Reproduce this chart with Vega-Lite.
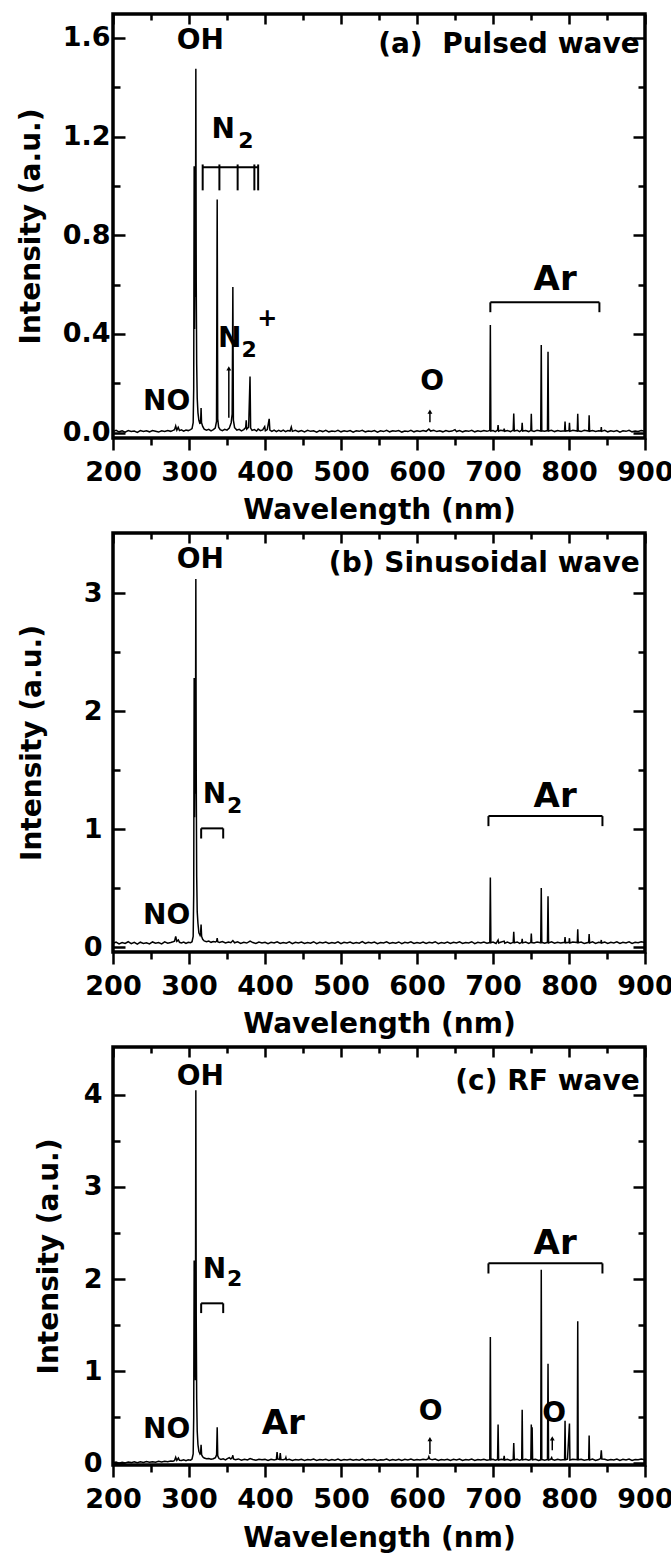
{
"$schema":"https://vega.github.io/schema/vega-lite/v6.json",
"background":"white",
"padding":{"left":15,"top":11,"right":0,"bottom":4},
"spacing":95,
"bounds":"flush",
"config":{
 "view":{"stroke":"black","strokeWidth":3.5},
 "axis":{"labelFont":"DejaVu Sans","labelFontWeight":"bold","labelFontSize":27,"labelColor":"black","labelOverlap":false,"labelFlush":false,"labelBound":false,"titleFont":"DejaVu Sans","titleFontWeight":"bold","titleFontSize":28,"titleColor":"black","tickColor":"black","tickWidth":2.5,"grid":false,"domain":false}
},
"vconcat":[
{
 "width":532,"height":424,
 "resolve":{"axis":{"x":"independent","y":"independent"}},
 "layer":[
  {"data":{"name":"aS"},"mark":{"type":"line","color":"black","strokeWidth":1.5},
   "encoding":{"x":{"field":"w","type":"quantitative","scale":{"domain":[200,900],"nice":false,"zero":false},"axis":{"orient":"bottom","values":[200,300,400,500,600,700,800,900],"title":"Wavelength (nm)","tickSize":12,"labelPadding":9,"titlePadding":11}},
    "y":{"field":"v","type":"quantitative","scale":{"domain":[-0.022,1.697],"nice":false,"zero":false},"axis":{"orient":"left","values":[0,0.4,0.8,1.2,1.6],"format":".1f","title":"Intensity (a.u.)","ticks":false,"labelPadding":3,"titlePadding":17}}}},
  {"data":{"name":"aT"},"transform":[{"filter":"datum.k=='c'"}],"mark":{"type":"text","font":"DejaVu Sans","fontWeight":"bold","fontSize":28,"align":"center","baseline":"alphabetic","color":"black"},
   "encoding":{"x":{"field":"w","type":"quantitative","scale":{"domain":[200,900],"nice":false,"zero":false},"axis":{"orient":"bottom","values":[250,350,450,550,650,750,850],"labels":false,"title":null,"tickSize":7}},
    "y":{"field":"v","type":"quantitative","scale":{"domain":[-0.022,1.697],"nice":false,"zero":false},"axis":{"orient":"left","values":[0,0.4,0.8,1.2,1.6],"labels":false,"title":null,"tickSize":-12}},"text":{"field":"t"}}},
  {"data":{"name":"aT"},"transform":[{"filter":"datum.k=='b'"}],"mark":{"type":"text","font":"DejaVu Sans","fontWeight":"bold","fontSize":34,"align":"center","baseline":"alphabetic","color":"black"},
   "encoding":{"x":{"field":"w","type":"quantitative","scale":{"domain":[200,900],"nice":false,"zero":false},"axis":{"orient":"top","values":[200,300,400,500,600,700,800,900],"labels":false,"title":null,"tickSize":-10}},
    "y":{"field":"v","type":"quantitative","scale":{"domain":[-0.022,1.697],"nice":false,"zero":false},"axis":{"orient":"left","values":[0.2,0.6,1.0,1.4],"labels":false,"title":null,"tickSize":-7}},"text":{"field":"t"}}},
  {"data":{"name":"aT"},"transform":[{"filter":"datum.k=='s'"}],"mark":{"type":"text","font":"DejaVu Sans","fontWeight":"bold","fontSize":22,"align":"center","baseline":"alphabetic","color":"black"},
   "encoding":{"x":{"field":"w","type":"quantitative","scale":{"domain":[200,900],"nice":false,"zero":false},"axis":{"orient":"top","values":[250,350,450,550,650,750,850],"labels":false,"title":null,"tickSize":-6}},
    "y":{"field":"v","type":"quantitative","scale":{"domain":[-0.022,1.697],"nice":false,"zero":false},"axis":{"orient":"right","values":[0,0.4,0.8,1.2,1.6],"labels":false,"title":null,"tickSize":-12}},"text":{"field":"t"}}},
  {"data":{"name":"aT"},"transform":[{"filter":"datum.k=='r'"}],"mark":{"type":"text","font":"DejaVu Sans","fontWeight":"bold","fontSize":28,"align":"right","baseline":"alphabetic","color":"black"},
   "encoding":{"x":{"field":"w","type":"quantitative","scale":{"domain":[200,900],"nice":false,"zero":false},"axis":null},
    "y":{"field":"v","type":"quantitative","scale":{"domain":[-0.022,1.697],"nice":false,"zero":false},"axis":{"orient":"right","values":[0.2,0.6,1.0,1.4],"labels":false,"title":null,"tickSize":-7}},"text":{"field":"t"}}},
  {"data":{"name":"aT"},"transform":[{"filter":"datum.k=='p'"}],"mark":{"type":"text","font":"DejaVu Sans","fontWeight":"bold","fontSize":24,"align":"center","baseline":"middle","color":"black"},
   "encoding":{"x":{"field":"w","type":"quantitative","scale":{"domain":[200,900],"nice":false,"zero":false},"axis":null},
    "y":{"field":"v","type":"quantitative","scale":{"domain":[-0.022,1.697],"nice":false,"zero":false},"axis":null},"text":{"field":"t"}}},
  {"data":{"name":"aR"},"mark":{"type":"rule","color":"black","strokeWidth":2},
   "encoding":{"x":{"field":"w","type":"quantitative","scale":{"domain":[200,900],"nice":false,"zero":false},"axis":null},"x2":{"field":"w2"},
    "y":{"field":"v","type":"quantitative","scale":{"domain":[-0.022,1.697],"nice":false,"zero":false},"axis":null},"y2":{"field":"v2"}}},
  {"data":{"name":"aA"},"mark":{"type":"rule","color":"black","strokeWidth":1.5},
   "encoding":{"x":{"field":"w","type":"quantitative","scale":{"domain":[200,900],"nice":false,"zero":false},"axis":null},
    "y":{"field":"v","type":"quantitative","scale":{"domain":[-0.022,1.697],"nice":false,"zero":false},"axis":null},"y2":{"field":"v2"}}},
  {"data":{"name":"aA"},"mark":{"type":"point","shape":"triangle-up","filled":true,"color":"black","size":24,"opacity":1},
   "encoding":{"x":{"field":"w","type":"quantitative","scale":{"domain":[200,900],"nice":false,"zero":false},"axis":null},
    "y":{"field":"v2","type":"quantitative","scale":{"domain":[-0.022,1.697],"nice":false,"zero":false},"axis":null}}}
 ]
},
{
 "width":532,"height":419,
 "resolve":{"axis":{"x":"independent","y":"independent"}},
 "layer":[
  {"data":{"name":"bS"},"mark":{"type":"line","color":"black","strokeWidth":1.5},
   "encoding":{"x":{"field":"w","type":"quantitative","scale":{"domain":[200,900],"nice":false,"zero":false},"axis":{"orient":"bottom","values":[200,300,400,500,600,700,800,900],"title":"Wavelength (nm)","tickSize":12,"labelPadding":9,"titlePadding":11}},
    "y":{"field":"v","type":"quantitative","scale":{"domain":[-0.042,3.51],"nice":false,"zero":false},"axis":{"orient":"left","values":[0,1,2,3],"format":"d","title":"Intensity (a.u.)","ticks":false,"labelPadding":11,"titlePadding":37}}}},
  {"data":{"name":"bT"},"transform":[{"filter":"datum.k=='c'"}],"mark":{"type":"text","font":"DejaVu Sans","fontWeight":"bold","fontSize":28,"align":"center","baseline":"alphabetic","color":"black"},
   "encoding":{"x":{"field":"w","type":"quantitative","scale":{"domain":[200,900],"nice":false,"zero":false},"axis":{"orient":"bottom","values":[250,350,450,550,650,750,850],"labels":false,"title":null,"tickSize":7}},
    "y":{"field":"v","type":"quantitative","scale":{"domain":[-0.042,3.51],"nice":false,"zero":false},"axis":{"orient":"left","values":[0,1,2,3],"labels":false,"title":null,"tickSize":-12}},"text":{"field":"t"}}},
  {"data":{"name":"bT"},"transform":[{"filter":"datum.k=='b'"}],"mark":{"type":"text","font":"DejaVu Sans","fontWeight":"bold","fontSize":34,"align":"center","baseline":"alphabetic","color":"black"},
   "encoding":{"x":{"field":"w","type":"quantitative","scale":{"domain":[200,900],"nice":false,"zero":false},"axis":{"orient":"top","values":[200,300,400,500,600,700,800,900],"labels":false,"title":null,"tickSize":-10}},
    "y":{"field":"v","type":"quantitative","scale":{"domain":[-0.042,3.51],"nice":false,"zero":false},"axis":{"orient":"left","values":[0.5,1.5,2.5],"labels":false,"title":null,"tickSize":-7}},"text":{"field":"t"}}},
  {"data":{"name":"bT"},"transform":[{"filter":"datum.k=='s'"}],"mark":{"type":"text","font":"DejaVu Sans","fontWeight":"bold","fontSize":22,"align":"center","baseline":"alphabetic","color":"black"},
   "encoding":{"x":{"field":"w","type":"quantitative","scale":{"domain":[200,900],"nice":false,"zero":false},"axis":{"orient":"top","values":[250,350,450,550,650,750,850],"labels":false,"title":null,"tickSize":-6}},
    "y":{"field":"v","type":"quantitative","scale":{"domain":[-0.042,3.51],"nice":false,"zero":false},"axis":{"orient":"right","values":[0,1,2,3],"labels":false,"title":null,"tickSize":-12}},"text":{"field":"t"}}},
  {"data":{"name":"bT"},"transform":[{"filter":"datum.k=='r'"}],"mark":{"type":"text","font":"DejaVu Sans","fontWeight":"bold","fontSize":28,"align":"right","baseline":"alphabetic","color":"black"},
   "encoding":{"x":{"field":"w","type":"quantitative","scale":{"domain":[200,900],"nice":false,"zero":false},"axis":null},
    "y":{"field":"v","type":"quantitative","scale":{"domain":[-0.042,3.51],"nice":false,"zero":false},"axis":{"orient":"right","values":[0.5,1.5,2.5],"labels":false,"title":null,"tickSize":-7}},"text":{"field":"t"}}},
  {"data":{"name":"bR"},"mark":{"type":"rule","color":"black","strokeWidth":2},
   "encoding":{"x":{"field":"w","type":"quantitative","scale":{"domain":[200,900],"nice":false,"zero":false},"axis":null},"x2":{"field":"w2"},
    "y":{"field":"v","type":"quantitative","scale":{"domain":[-0.042,3.51],"nice":false,"zero":false},"axis":null},"y2":{"field":"v2"}}}
 ]
},
{
 "width":532,"height":418,
 "resolve":{"axis":{"x":"independent","y":"independent"}},
 "layer":[
  {"data":{"name":"cS"},"mark":{"type":"line","color":"black","strokeWidth":1.5},
   "encoding":{"x":{"field":"w","type":"quantitative","scale":{"domain":[200,900],"nice":false,"zero":false},"axis":{"orient":"bottom","values":[200,300,400,500,600,700,800,900],"title":"Wavelength (nm)","tickSize":12,"labelPadding":9,"titlePadding":12}},
    "y":{"field":"v","type":"quantitative","scale":{"domain":[-0.02,4.52],"nice":false,"zero":false},"axis":{"orient":"left","values":[0,1,2,3,4],"format":"d","title":"Intensity (a.u.)","ticks":false,"labelPadding":11,"titlePadding":20}}}},
  {"data":{"name":"cT"},"transform":[{"filter":"datum.k=='c'"}],"mark":{"type":"text","font":"DejaVu Sans","fontWeight":"bold","fontSize":28,"align":"center","baseline":"alphabetic","color":"black"},
   "encoding":{"x":{"field":"w","type":"quantitative","scale":{"domain":[200,900],"nice":false,"zero":false},"axis":{"orient":"bottom","values":[250,350,450,550,650,750,850],"labels":false,"title":null,"tickSize":7}},
    "y":{"field":"v","type":"quantitative","scale":{"domain":[-0.02,4.52],"nice":false,"zero":false},"axis":{"orient":"left","values":[0,1,2,3,4],"labels":false,"title":null,"tickSize":-12}},"text":{"field":"t"}}},
  {"data":{"name":"cT"},"transform":[{"filter":"datum.k=='b'"}],"mark":{"type":"text","font":"DejaVu Sans","fontWeight":"bold","fontSize":34,"align":"center","baseline":"alphabetic","color":"black"},
   "encoding":{"x":{"field":"w","type":"quantitative","scale":{"domain":[200,900],"nice":false,"zero":false},"axis":{"orient":"top","values":[200,300,400,500,600,700,800,900],"labels":false,"title":null,"tickSize":-10}},
    "y":{"field":"v","type":"quantitative","scale":{"domain":[-0.02,4.52],"nice":false,"zero":false},"axis":{"orient":"left","values":[0.5,1.5,2.5,3.5],"labels":false,"title":null,"tickSize":-7}},"text":{"field":"t"}}},
  {"data":{"name":"cT"},"transform":[{"filter":"datum.k=='s'"}],"mark":{"type":"text","font":"DejaVu Sans","fontWeight":"bold","fontSize":22,"align":"center","baseline":"alphabetic","color":"black"},
   "encoding":{"x":{"field":"w","type":"quantitative","scale":{"domain":[200,900],"nice":false,"zero":false},"axis":{"orient":"top","values":[250,350,450,550,650,750,850],"labels":false,"title":null,"tickSize":-6}},
    "y":{"field":"v","type":"quantitative","scale":{"domain":[-0.02,4.52],"nice":false,"zero":false},"axis":{"orient":"right","values":[0,1,2,3,4],"labels":false,"title":null,"tickSize":-12}},"text":{"field":"t"}}},
  {"data":{"name":"cT"},"transform":[{"filter":"datum.k=='r'"}],"mark":{"type":"text","font":"DejaVu Sans","fontWeight":"bold","fontSize":28,"align":"right","baseline":"alphabetic","color":"black"},
   "encoding":{"x":{"field":"w","type":"quantitative","scale":{"domain":[200,900],"nice":false,"zero":false},"axis":null},
    "y":{"field":"v","type":"quantitative","scale":{"domain":[-0.02,4.52],"nice":false,"zero":false},"axis":{"orient":"right","values":[0.5,1.5,2.5,3.5],"labels":false,"title":null,"tickSize":-7}},"text":{"field":"t"}}},
  {"data":{"name":"cR"},"mark":{"type":"rule","color":"black","strokeWidth":2},
   "encoding":{"x":{"field":"w","type":"quantitative","scale":{"domain":[200,900],"nice":false,"zero":false},"axis":null},"x2":{"field":"w2"},
    "y":{"field":"v","type":"quantitative","scale":{"domain":[-0.02,4.52],"nice":false,"zero":false},"axis":null},"y2":{"field":"v2"}}},
  {"data":{"name":"cA"},"mark":{"type":"rule","color":"black","strokeWidth":1.5},
   "encoding":{"x":{"field":"w","type":"quantitative","scale":{"domain":[200,900],"nice":false,"zero":false},"axis":null},
    "y":{"field":"v","type":"quantitative","scale":{"domain":[-0.02,4.52],"nice":false,"zero":false},"axis":null},"y2":{"field":"v2"}}},
  {"data":{"name":"cA"},"mark":{"type":"point","shape":"triangle-up","filled":true,"color":"black","size":24,"opacity":1},
   "encoding":{"x":{"field":"w","type":"quantitative","scale":{"domain":[200,900],"nice":false,"zero":false},"axis":null},
    "y":{"field":"v2","type":"quantitative","scale":{"domain":[-0.02,4.52],"nice":false,"zero":false},"axis":null}}}
 ]
}
],
"datasets":{
"aT":[
{"k":"c","t":"OH","w":315,"v":1.556},
{"k":"c","t":"NO","w":270.6,"v":0.09},
{"k":"c","t":"O","w":620,"v":0.174},
{"k":"c","t":"N","w":345,"v":1.196},
{"k":"c","t":"N","w":353.5,"v":0.347},
{"k":"s","t":"2","w":375,"v":1.152},
{"k":"s","t":"2","w":379,"v":0.308},
{"k":"p","t":"+","w":403,"v":0.46},
{"k":"b","t":"Ar","w":781.8,"v":0.578},
{"k":"r","t":"(a)\u00a0 Pulsed wave","w":893,"v":1.54}
],
"aR":[
{"w":318,"w2":391,"v":1.076,"v2":1.076},
{"w":318,"w2":318,"v":0.982,"v2":1.087},
{"w":340,"w2":340,"v":0.982,"v2":1.087},
{"w":364,"w2":364,"v":0.982,"v2":1.087},
{"w":386,"w2":386,"v":0.982,"v2":1.087},
{"w":391,"w2":391,"v":0.982,"v2":1.087},
{"w":696.5,"w2":840,"v":0.528,"v2":0.528},
{"w":696.5,"w2":696.5,"v":0.488,"v2":0.528},
{"w":840,"w2":840,"v":0.488,"v2":0.528}
],
"aA":[
{"w":352.4,"v":0.06,"v2":0.26},
{"w":617,"v":0.042,"v2":0.085}
],
"bT":[
{"k":"c","t":"OH","w":315,"v":3.21},
{"k":"c","t":"NO","w":270.6,"v":0.195},
{"k":"c","t":"N","w":333.5,"v":1.22},
{"k":"s","t":"2","w":360,"v":1.135},
{"k":"b","t":"Ar","w":781.8,"v":1.19},
{"k":"r","t":"(b) Sinusoidal wave","w":893,"v":3.18}
],
"bR":[
{"w":316,"w2":345,"v":1.006,"v2":1.006},
{"w":316,"w2":316,"v":0.92,"v2":1.006},
{"w":345,"w2":345,"v":0.92,"v2":1.006},
{"w":694,"w2":844,"v":1.11,"v2":1.11},
{"w":694,"w2":694,"v":1.025,"v2":1.11},
{"w":844,"w2":844,"v":1.025,"v2":1.11}
],
"cT":[
{"k":"c","t":"OH","w":315,"v":4.11},
{"k":"c","t":"NO","w":270.6,"v":0.27},
{"k":"c","t":"N","w":333.5,"v":2.01},
{"k":"s","t":"2","w":360,"v":1.92},
{"k":"c","t":"O","w":618,"v":0.47},
{"k":"c","t":"O","w":780.6,"v":0.45},
{"k":"b","t":"Ar","w":781.8,"v":2.27},
{"k":"b","t":"Ar","w":424,"v":0.32},
{"k":"r","t":"(c) RF wave","w":893,"v":4.05}
],
"cR":[
{"w":316,"w2":345,"v":1.736,"v2":1.736},
{"w":316,"w2":316,"v":1.63,"v2":1.736},
{"w":345,"w2":345,"v":1.63,"v2":1.736},
{"w":694,"w2":844,"v":2.17,"v2":2.17},
{"w":694,"w2":694,"v":2.06,"v2":2.17},
{"w":844,"w2":844,"v":2.06,"v2":2.17}
],
"cA":[
{"w":617,"v":0.1,"v2":0.26},
{"w":778,"v":0.14,"v2":0.27}
],
"aS":[
{"w":200,"v":0.004},{"w":204,"v":0.009},{"w":208,"v":0.003},{"w":212,"v":0.007},{"w":216,"v":0.002},{"w":220,"v":0.008},{"w":224,"v":0.004},{"w":228,"v":0.006},{"w":232,"v":0.001},{"w":236,"v":0.008},{"w":240,"v":0.004},{"w":244,"v":0.007},{"w":248,"v":0.003},{"w":252,"v":0.008},{"w":256,"v":0.005},{"w":260,"v":0.002},{"w":264,"v":0.007},{"w":268,"v":0.004},{"w":272,"v":0.008},{"w":276,"v":0.005},{"w":279,"v":0.009},{"w":281,"v":0.012},{"w":282.5,"v":0.027},{"w":284,"v":0.01},{"w":285.8,"v":0.021},{"w":287.5,"v":0.008},{"w":290,"v":0.011},{"w":293,"v":0.006},{"w":296,"v":0.01},{"w":299,"v":0.008},{"w":302,"v":0.012},{"w":304,"v":0.016},{"w":305.5,"v":0.04},{"w":306.2,"v":0.18},{"w":306.8,"v":1.08},{"w":307.3,"v":0.42},{"w":307.9,"v":0.82},{"w":308.4,"v":0.55},{"w":309.0,"v":1.475},{"w":309.5,"v":0.62},{"w":310.1,"v":0.28},{"w":310.8,"v":0.14},{"w":311.8,"v":0.08},{"w":313,"v":0.05},{"w":314.5,"v":0.035},{"w":315.4,"v":0.05},{"w":315.9,"v":0.1},{"w":316.5,"v":0.04},{"w":318,"v":0.025},{"w":320,"v":0.014},{"w":323,"v":0.01},{"w":326,"v":0.013},{"w":329,"v":0.007},{"w":332,"v":0.012},{"w":334.5,"v":0.018},{"w":336.2,"v":0.045},{"w":337.1,"v":0.945},{"w":337.8,"v":0.055},{"w":339,"v":0.022},{"w":341,"v":0.012},{"w":344,"v":0.008},{"w":347,"v":0.013},{"w":350,"v":0.01},{"w":353,"v":0.018},{"w":355.5,"v":0.04},{"w":356.8,"v":0.075},{"w":357.7,"v":0.59},{"w":358.4,"v":0.05},{"w":360,"v":0.02},{"w":363,"v":0.01},{"w":366,"v":0.013},{"w":369,"v":0.007},{"w":372,"v":0.012},{"w":374.6,"v":0.02},{"w":375.3,"v":0.05},{"w":376,"v":0.014},{"w":378.5,"v":0.022},{"w":380.3,"v":0.227},{"w":381.1,"v":0.018},{"w":383,"v":0.009},{"w":386,"v":0.012},{"w":389,"v":0.006},{"w":391,"v":0.014},{"w":394,"v":0.008},{"w":397,"v":0.011},{"w":399.6,"v":0.024},{"w":400.5,"v":0.007},{"w":403,"v":0.012},{"w":405.5,"v":0.056},{"w":406.4,"v":0.01},{"w":409,"v":0.005},{"w":412,"v":0.01},{"w":415,"v":0.004},{"w":418,"v":0.009},{"w":421,"v":0.005},{"w":424,"v":0.01},{"w":427,"v":0.004},{"w":430,"v":0.008},{"w":433,"v":0.006},{"w":434.6,"v":0.022},{"w":436,"v":0.005},{"w":440,"v":0.009},{"w":444,"v":0.004},{"w":448,"v":0.008},{"w":452,"v":0.003},{"w":456,"v":0.009},{"w":460,"v":0.005},{"w":464,"v":0.007},{"w":468,"v":0.002},{"w":472,"v":0.008},{"w":476,"v":0.004},{"w":480,"v":0.009},{"w":484,"v":0.003},{"w":488,"v":0.006},{"w":492,"v":0.004},{"w":496,"v":0.009},{"w":500,"v":0.003},{"w":504,"v":0.007},{"w":508,"v":0.004},{"w":512,"v":0.008},{"w":516,"v":0.002},{"w":520,"v":0.007},{"w":524,"v":0.005},{"w":528,"v":0.009},{"w":532,"v":0.003},{"w":536,"v":0.006},{"w":540,"v":0.004},{"w":544,"v":0.008},{"w":548,"v":0.002},{"w":552,"v":0.007},{"w":556,"v":0.004},{"w":560,"v":0.009},{"w":564,"v":0.003},{"w":568,"v":0.007},{"w":572,"v":0.005},{"w":576,"v":0.008},{"w":580,"v":0.002},{"w":584,"v":0.006},{"w":588,"v":0.004},{"w":592,"v":0.009},{"w":596,"v":0.003},{"w":600,"v":0.007},{"w":604,"v":0.004},{"w":608,"v":0.008},{"w":612,"v":0.005},{"w":615.6,"v":0.014},{"w":618,"v":0.006},{"w":622,"v":0.009},{"w":626,"v":0.004},{"w":630,"v":0.007},{"w":634,"v":0.003},{"w":638,"v":0.008},{"w":642,"v":0.004},{"w":646,"v":0.006},{"w":650,"v":0.012},{"w":652,"v":0.004},{"w":656,"v":0.008},{"w":660,"v":0.003},{"w":664,"v":0.007},{"w":668,"v":0.005},{"w":672,"v":0.009},{"w":676,"v":0.003},{"w":680,"v":0.007},{"w":684,"v":0.004},{"w":688,"v":0.008},{"w":692,"v":0.005},{"w":695.8,"v":0.009},{"w":696.5,"v":0.436},{"w":697.2,"v":0.006},{"w":700,"v":0.008},{"w":703,"v":0.004},{"w":706,"v":0.01},{"w":706.7,"v":0.03},{"w":707.4,"v":0.006},{"w":710,"v":0.009},{"w":714,"v":0.007},{"w":714.7,"v":0.016},{"w":715.5,"v":0.005},{"w":719,"v":0.008},{"w":723,"v":0.004},{"w":726.6,"v":0.01},{"w":727.3,"v":0.077},{"w":728,"v":0.006},{"w":732,"v":0.009},{"w":735,"v":0.004},{"w":737.8,"v":0.01},{"w":738.4,"v":0.04},{"w":739,"v":0.006},{"w":743,"v":0.008},{"w":747,"v":0.004},{"w":749.8,"v":0.009},{"w":750.4,"v":0.076},{"w":751,"v":0.008},{"w":754,"v":0.005},{"w":758,"v":0.009},{"w":762.8,"v":0.006},{"w":763.5,"v":0.355},{"w":764.2,"v":0.007},{"w":768,"v":0.005},{"w":771.7,"v":0.008},{"w":772.4,"v":0.328},{"w":773.1,"v":0.006},{"w":777,"v":0.009},{"w":781,"v":0.004},{"w":785,"v":0.008},{"w":789,"v":0.005},{"w":794.2,"v":0.007},{"w":794.8,"v":0.045},{"w":795.4,"v":0.006},{"w":800,"v":0.008},{"w":800.6,"v":0.04},{"w":801.2,"v":0.005},{"w":805,"v":0.009},{"w":810.9,"v":0.006},{"w":811.5,"v":0.076},{"w":812.1,"v":0.007},{"w":816,"v":0.004},{"w":820,"v":0.009},{"w":825.9,"v":0.006},{"w":826.5,"v":0.07},{"w":827.1,"v":0.005},{"w":831,"v":0.008},{"w":835,"v":0.004},{"w":839,"v":0.007},{"w":842,"v":0.006},{"w":842.5,"v":0.022},{"w":843,"v":0.005},{"w":847,"v":0.009},{"w":851,"v":0.003},{"w":855,"v":0.007},{"w":859,"v":0.004},{"w":863,"v":0.008},{"w":867,"v":0.002},{"w":871,"v":0.007},{"w":875,"v":0.005},{"w":879,"v":0.009},{"w":883,"v":0.003},{"w":887,"v":0.006},{"w":891,"v":0.004},{"w":895,"v":0.008},{"w":900,"v":0.005}
],
"bS":[
{"w":200,"v":0.03},{"w":204,"v":0.042},{"w":208,"v":0.026},{"w":212,"v":0.038},{"w":216,"v":0.03},{"w":220,"v":0.045},{"w":224,"v":0.028},{"w":228,"v":0.04},{"w":232,"v":0.024},{"w":236,"v":0.041},{"w":240,"v":0.031},{"w":244,"v":0.036},{"w":248,"v":0.026},{"w":252,"v":0.043},{"w":256,"v":0.032},{"w":260,"v":0.038},{"w":264,"v":0.027},{"w":268,"v":0.044},{"w":272,"v":0.033},{"w":276,"v":0.039},{"w":279,"v":0.045},{"w":281,"v":0.05},{"w":282.5,"v":0.09},{"w":284,"v":0.048},{"w":286,"v":0.06},{"w":287.5,"v":0.04},{"w":290,"v":0.035},{"w":293,"v":0.042},{"w":296,"v":0.03},{"w":299,"v":0.04},{"w":302,"v":0.036},{"w":304,"v":0.045},{"w":305.5,"v":0.09},{"w":306.2,"v":0.45},{"w":306.8,"v":2.28},{"w":307.3,"v":1.1},{"w":307.9,"v":1.78},{"w":308.4,"v":1.3},{"w":309.0,"v":3.12},{"w":309.5,"v":1.5},{"w":310.1,"v":0.6},{"w":310.8,"v":0.3},{"w":311.8,"v":0.2},{"w":313,"v":0.12},{"w":314.5,"v":0.1},{"w":315.3,"v":0.12},{"w":315.9,"v":0.19},{"w":316.6,"v":0.09},{"w":318,"v":0.065},{"w":320,"v":0.052},{"w":323,"v":0.045},{"w":326,"v":0.05},{"w":329,"v":0.04},{"w":332,"v":0.047},{"w":335,"v":0.043},{"w":336.4,"v":0.05},{"w":337.1,"v":0.075},{"w":337.8,"v":0.045},{"w":340,"v":0.038},{"w":344,"v":0.046},{"w":348,"v":0.034},{"w":352,"v":0.042},{"w":355,"v":0.037},{"w":357.7,"v":0.055},{"w":360,"v":0.036},{"w":364,"v":0.044},{"w":368,"v":0.031},{"w":372,"v":0.04},{"w":376,"v":0.034},{"w":380.4,"v":0.05},{"w":384,"v":0.038},{"w":388,"v":0.03},{"w":392,"v":0.043},{"w":396,"v":0.035},{"w":400,"v":0.041},{"w":404,"v":0.029},{"w":408,"v":0.04},{"w":412,"v":0.034},{"w":416,"v":0.045},{"w":420,"v":0.03},{"w":424,"v":0.039},{"w":428,"v":0.033},{"w":432,"v":0.044},{"w":436,"v":0.028},{"w":440,"v":0.04},{"w":444,"v":0.035},{"w":448,"v":0.043},{"w":452,"v":0.03},{"w":456,"v":0.038},{"w":460,"v":0.032},{"w":464,"v":0.045},{"w":468,"v":0.029},{"w":472,"v":0.04},{"w":476,"v":0.034},{"w":480,"v":0.042},{"w":484,"v":0.03},{"w":488,"v":0.039},{"w":492,"v":0.033},{"w":496,"v":0.044},{"w":500,"v":0.028},{"w":504,"v":0.04},{"w":508,"v":0.035},{"w":512,"v":0.043},{"w":516,"v":0.031},{"w":520,"v":0.039},{"w":524,"v":0.033},{"w":528,"v":0.046},{"w":532,"v":0.03},{"w":536,"v":0.04},{"w":540,"v":0.034},{"w":544,"v":0.042},{"w":548,"v":0.029},{"w":552,"v":0.038},{"w":556,"v":0.035},{"w":560,"v":0.044},{"w":564,"v":0.03},{"w":568,"v":0.039},{"w":572,"v":0.033},{"w":576,"v":0.043},{"w":580,"v":0.028},{"w":584,"v":0.041},{"w":588,"v":0.035},{"w":592,"v":0.044},{"w":596,"v":0.03},{"w":600,"v":0.039},{"w":604,"v":0.033},{"w":608,"v":0.042},{"w":612,"v":0.03},{"w":616,"v":0.04},{"w":620,"v":0.034},{"w":624,"v":0.045},{"w":628,"v":0.029},{"w":632,"v":0.038},{"w":636,"v":0.033},{"w":640,"v":0.043},{"w":644,"v":0.03},{"w":648,"v":0.041},{"w":652,"v":0.034},{"w":656,"v":0.044},{"w":660,"v":0.03},{"w":664,"v":0.039},{"w":668,"v":0.035},{"w":672,"v":0.045},{"w":676,"v":0.029},{"w":680,"v":0.04},{"w":684,"v":0.034},{"w":688,"v":0.043},{"w":692,"v":0.032},{"w":695.8,"v":0.038},{"w":696.5,"v":0.59},{"w":697.2,"v":0.036},{"w":700,"v":0.042},{"w":704,"v":0.03},{"w":706.7,"v":0.06},{"w":707.5,"v":0.035},{"w":710,"v":0.04},{"w":714.7,"v":0.05},{"w":715.5,"v":0.033},{"w":719,"v":0.042},{"w":723,"v":0.03},{"w":726.6,"v":0.04},{"w":727.3,"v":0.13},{"w":728,"v":0.036},{"w":732,"v":0.043},{"w":735,"v":0.031},{"w":737.8,"v":0.04},{"w":738.4,"v":0.07},{"w":739,"v":0.035},{"w":743,"v":0.042},{"w":747,"v":0.03},{"w":749.8,"v":0.04},{"w":750.4,"v":0.115},{"w":751,"v":0.038},{"w":754,"v":0.034},{"w":758,"v":0.043},{"w":762.8,"v":0.036},{"w":763.5,"v":0.5},{"w":764.2,"v":0.04},{"w":768,"v":0.033},{"w":771.7,"v":0.04},{"w":772.4,"v":0.43},{"w":773.1,"v":0.035},{"w":777,"v":0.045},{"w":781,"v":0.032},{"w":785,"v":0.04},{"w":789,"v":0.034},{"w":794.2,"v":0.04},{"w":794.8,"v":0.085},{"w":795.4,"v":0.036},{"w":800,"v":0.04},{"w":800.6,"v":0.075},{"w":801.2,"v":0.034},{"w":805,"v":0.043},{"w":810.9,"v":0.038},{"w":811.5,"v":0.15},{"w":812.1,"v":0.036},{"w":816,"v":0.042},{"w":820,"v":0.031},{"w":825.9,"v":0.04},{"w":826.5,"v":0.11},{"w":827.1,"v":0.035},{"w":831,"v":0.044},{"w":835,"v":0.03},{"w":839,"v":0.04},{"w":842,"v":0.036},{"w":842.5,"v":0.06},{"w":843,"v":0.034},{"w":847,"v":0.043},{"w":851,"v":0.031},{"w":855,"v":0.04},{"w":859,"v":0.035},{"w":863,"v":0.045},{"w":867,"v":0.03},{"w":871,"v":0.041},{"w":875,"v":0.034},{"w":879,"v":0.044},{"w":883,"v":0.03},{"w":887,"v":0.04},{"w":891,"v":0.036},{"w":895,"v":0.045},{"w":900,"v":0.038}
],
"cS":[
{"w":200,"v":0.005},{"w":204,"v":0.012},{"w":208,"v":0.0},{"w":212,"v":0.01},{"w":216,"v":0.003},{"w":220,"v":0.013},{"w":224,"v":0.006},{"w":228,"v":0.015},{"w":232,"v":0.005},{"w":236,"v":0.014},{"w":240,"v":0.008},{"w":244,"v":0.017},{"w":248,"v":0.009},{"w":252,"v":0.016},{"w":256,"v":0.011},{"w":260,"v":0.02},{"w":264,"v":0.012},{"w":268,"v":0.021},{"w":272,"v":0.015},{"w":276,"v":0.024},{"w":279,"v":0.02},{"w":281,"v":0.03},{"w":282.5,"v":0.065},{"w":284,"v":0.03},{"w":286,"v":0.055},{"w":287.5,"v":0.03},{"w":290,"v":0.028},{"w":293,"v":0.036},{"w":296,"v":0.027},{"w":299,"v":0.036},{"w":302,"v":0.033},{"w":304,"v":0.045},{"w":305.5,"v":0.1},{"w":306.2,"v":0.5},{"w":306.8,"v":2.2},{"w":307.3,"v":1.0},{"w":307.9,"v":1.23},{"w":308.4,"v":0.9},{"w":309.0,"v":4.05},{"w":309.5,"v":1.6},{"w":310.1,"v":0.7},{"w":310.8,"v":0.35},{"w":311.8,"v":0.2},{"w":313,"v":0.13},{"w":314.5,"v":0.1},{"w":315.3,"v":0.11},{"w":315.9,"v":0.2},{"w":316.6,"v":0.09},{"w":318,"v":0.07},{"w":320,"v":0.055},{"w":323,"v":0.048},{"w":326,"v":0.05},{"w":329,"v":0.042},{"w":332,"v":0.048},{"w":334.8,"v":0.06},{"w":336.3,"v":0.09},{"w":337.1,"v":0.39},{"w":337.8,"v":0.08},{"w":339.5,"v":0.05},{"w":342,"v":0.04},{"w":345,"v":0.047},{"w":348,"v":0.036},{"w":350.5,"v":0.05},{"w":353,"v":0.06},{"w":355,"v":0.045},{"w":356.8,"v":0.06},{"w":357.7,"v":0.085},{"w":358.5,"v":0.045},{"w":361,"v":0.038},{"w":365,"v":0.046},{"w":369,"v":0.033},{"w":373,"v":0.042},{"w":377,"v":0.035},{"w":380.4,"v":0.05},{"w":384,"v":0.04},{"w":388,"v":0.032},{"w":392,"v":0.043},{"w":396,"v":0.036},{"w":400,"v":0.041},{"w":404,"v":0.03},{"w":408,"v":0.042},{"w":412,"v":0.035},{"w":414.9,"v":0.04},{"w":415.9,"v":0.12},{"w":416.7,"v":0.045},{"w":419.2,"v":0.04},{"w":420.1,"v":0.11},{"w":421,"v":0.04},{"w":424,"v":0.038},{"w":426.9,"v":0.045},{"w":427.5,"v":0.06},{"w":428.2,"v":0.035},{"w":432,"v":0.042},{"w":436,"v":0.03},{"w":440,"v":0.04},{"w":444,"v":0.034},{"w":448,"v":0.043},{"w":452,"v":0.03},{"w":456,"v":0.039},{"w":460,"v":0.034},{"w":464,"v":0.044},{"w":468,"v":0.03},{"w":472,"v":0.04},{"w":476,"v":0.034},{"w":480,"v":0.043},{"w":484,"v":0.03},{"w":488,"v":0.039},{"w":492,"v":0.033},{"w":496,"v":0.044},{"w":500,"v":0.029},{"w":504,"v":0.04},{"w":508,"v":0.035},{"w":512,"v":0.043},{"w":516,"v":0.031},{"w":520,"v":0.04},{"w":524,"v":0.033},{"w":528,"v":0.045},{"w":532,"v":0.03},{"w":536,"v":0.04},{"w":540,"v":0.034},{"w":544,"v":0.043},{"w":548,"v":0.03},{"w":552,"v":0.038},{"w":556,"v":0.035},{"w":560,"v":0.044},{"w":564,"v":0.03},{"w":568,"v":0.04},{"w":572,"v":0.033},{"w":576,"v":0.043},{"w":580,"v":0.029},{"w":584,"v":0.041},{"w":588,"v":0.035},{"w":592,"v":0.044},{"w":596,"v":0.031},{"w":600,"v":0.039},{"w":604,"v":0.034},{"w":608,"v":0.042},{"w":612,"v":0.038},{"w":614.5,"v":0.045},{"w":615.6,"v":0.07},{"w":616.8,"v":0.045},{"w":620,"v":0.036},{"w":624,"v":0.044},{"w":628,"v":0.03},{"w":632,"v":0.039},{"w":636,"v":0.034},{"w":640,"v":0.043},{"w":644,"v":0.03},{"w":648,"v":0.041},{"w":652,"v":0.034},{"w":656,"v":0.044},{"w":660,"v":0.03},{"w":664,"v":0.039},{"w":668,"v":0.035},{"w":672,"v":0.044},{"w":676,"v":0.03},{"w":680,"v":0.04},{"w":684,"v":0.034},{"w":688,"v":0.043},{"w":692,"v":0.032},{"w":695.8,"v":0.038},{"w":696.5,"v":1.37},{"w":697.2,"v":0.036},{"w":700,"v":0.042},{"w":703,"v":0.031},{"w":706,"v":0.04},{"w":706.7,"v":0.42},{"w":707.4,"v":0.035},{"w":711,"v":0.043},{"w":714,"v":0.036},{"w":714.7,"v":0.08},{"w":715.4,"v":0.034},{"w":719,"v":0.042},{"w":723,"v":0.03},{"w":726.6,"v":0.04},{"w":727.3,"v":0.22},{"w":728,"v":0.036},{"w":732,"v":0.043},{"w":735,"v":0.031},{"w":737.8,"v":0.04},{"w":738.4,"v":0.58},{"w":739,"v":0.035},{"w":743,"v":0.042},{"w":747,"v":0.031},{"w":749.8,"v":0.04},{"w":750.4,"v":0.42},{"w":751,"v":0.04},{"w":751.5,"v":0.39},{"w":752.1,"v":0.036},{"w":756,"v":0.043},{"w":760,"v":0.03},{"w":762.8,"v":0.036},{"w":763.5,"v":2.1},{"w":764.2,"v":0.04},{"w":768,"v":0.033},{"w":771.7,"v":0.04},{"w":772.4,"v":1.08},{"w":773.1,"v":0.035},{"w":776,"v":0.042},{"w":777.2,"v":0.06},{"w":778,"v":0.04},{"w":781,"v":0.032},{"w":785,"v":0.043},{"w":789,"v":0.034},{"w":794.2,"v":0.04},{"w":794.8,"v":0.46},{"w":795.4,"v":0.036},{"w":798,"v":0.042},{"w":800.6,"v":0.43},{"w":801.2,"v":0.034},{"w":805,"v":0.043},{"w":810.9,"v":0.038},{"w":811.5,"v":1.54},{"w":812.1,"v":0.036},{"w":816,"v":0.042},{"w":820,"v":0.031},{"w":825.9,"v":0.04},{"w":826.5,"v":0.3},{"w":827.1,"v":0.035},{"w":831,"v":0.044},{"w":835,"v":0.03},{"w":839,"v":0.04},{"w":841.6,"v":0.05},{"w":842.5,"v":0.14},{"w":843.3,"v":0.045},{"w":847,"v":0.043},{"w":851,"v":0.031},{"w":855,"v":0.04},{"w":859,"v":0.035},{"w":863,"v":0.045},{"w":867,"v":0.03},{"w":871,"v":0.041},{"w":875,"v":0.034},{"w":879,"v":0.044},{"w":883,"v":0.03},{"w":887,"v":0.04},{"w":891,"v":0.036},{"w":895,"v":0.045},{"w":900,"v":0.038}
]
}
}
